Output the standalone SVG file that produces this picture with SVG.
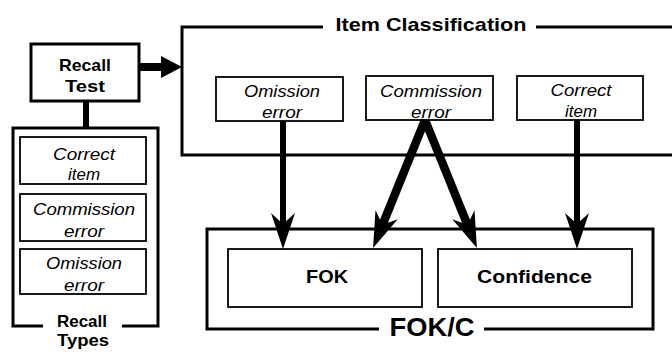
<svg xmlns="http://www.w3.org/2000/svg" width="672" height="353" viewBox="0 0 672 353">
  <style>
    .frame { fill: none; stroke: #000; stroke-width: 3; }
    .box { fill: #fff; stroke: #000; stroke-width: 1.8; }
    .bold { font-family: "Liberation Sans", Arial, Helvetica, sans-serif; font-weight: bold; fill: #000; text-anchor: middle; }
    .ital { font-family: "Liberation Sans", Arial, Helvetica, sans-serif; font-style: italic; font-size: 17px; fill: #000; text-anchor: middle; }
    .shaft { stroke: #000; fill: none; stroke-linecap: butt; }
  </style>
  <defs>
    <marker id="barb" markerUnits="userSpaceOnUse" markerWidth="60" markerHeight="40" refX="0" refY="0" viewBox="-20 -20 60 40" orient="auto" overflow="visible">
      <path d="M24,0 L-12,-12 L-1,0 L-12,12 Z" fill="#000"/>
    </marker>
  </defs>

  <rect width="672" height="353" fill="#fff"/>

  <!-- Recall Test -->
  <g id="recall-test">
    <rect class="frame" x="31" y="44" width="108" height="57"/>
    <text class="bold" x="85" y="71" font-size="17" textLength="52" lengthAdjust="spacingAndGlyphs">Recall</text>
    <text class="bold" x="85" y="92" font-size="17" textLength="40" lengthAdjust="spacingAndGlyphs">Test</text>
  </g>

  <!-- Recall Types frame and its entries -->
  <g id="recall-types">
    <path class="frame" d="M43,326 L13,326 L13,128 L158,128 L158,326 L122,326"/>
    <text class="bold" x="82" y="327" font-size="16.5" textLength="50" lengthAdjust="spacingAndGlyphs">Recall</text>
    <text class="bold" x="83" y="346" font-size="16.5" textLength="52" lengthAdjust="spacingAndGlyphs">Types</text>
  </g>
  <g id="rt-correct">
    <rect class="box" x="20" y="137" width="126" height="47"/>
    <text class="ital" x="84" y="160" textLength="62" lengthAdjust="spacingAndGlyphs">Correct</text>
    <text class="ital" x="84" y="180" textLength="32" lengthAdjust="spacingAndGlyphs">item</text>
  </g>
  <g id="rt-commission">
    <rect class="box" x="20" y="194" width="126" height="47"/>
    <text class="ital" x="84" y="215" textLength="102" lengthAdjust="spacingAndGlyphs">Commission</text>
    <text class="ital" x="84" y="237" textLength="40" lengthAdjust="spacingAndGlyphs">error</text>
  </g>
  <g id="rt-omission">
    <rect class="box" x="20" y="249" width="126" height="45"/>
    <text class="ital" x="84" y="269" textLength="76" lengthAdjust="spacingAndGlyphs">Omission</text>
    <text class="ital" x="84" y="291" textLength="40" lengthAdjust="spacingAndGlyphs">error</text>
  </g>

  <!-- Item Classification frame and its entries -->
  <g id="item-classification">
    <path class="frame" d="M323,27 L182,27 L182,155 L675,155 M536,27 L675,27"/>
    <text class="bold" x="431" y="31" font-size="19" textLength="191" lengthAdjust="spacingAndGlyphs">Item Classification</text>
  </g>
  <g id="ic-omission">
    <rect class="box" x="216" y="77" width="127" height="44"/>
    <text class="ital" x="282" y="97" textLength="76" lengthAdjust="spacingAndGlyphs">Omission</text>
    <text class="ital" x="282" y="118" textLength="40" lengthAdjust="spacingAndGlyphs">error</text>
  </g>
  <g id="ic-commission">
    <rect class="box" x="366" y="76" width="127" height="44"/>
    <text class="ital" x="431" y="97" textLength="102" lengthAdjust="spacingAndGlyphs">Commission</text>
    <text class="ital" x="431" y="118" textLength="40" lengthAdjust="spacingAndGlyphs">error</text>
  </g>
  <g id="ic-correct">
    <rect class="box" x="517" y="76" width="126" height="44"/>
    <text class="ital" x="581" y="96" textLength="61" lengthAdjust="spacingAndGlyphs">Correct</text>
    <text class="ital" x="581" y="117" textLength="32" lengthAdjust="spacingAndGlyphs">item</text>
  </g>

  <!-- FOK/C frame and its entries -->
  <g id="fokc">
    <path class="frame" d="M379,329 L207,329 L207,229 L653,229 L653,329 L484,329"/>
    <text class="bold" x="432" y="336" font-size="25" textLength="85" lengthAdjust="spacingAndGlyphs">FOK/C</text>
  </g>
  <g id="fok">
    <rect class="box" x="228" y="249" width="194" height="58"/>
    <text class="bold" x="327" y="283" font-size="19" textLength="42" lengthAdjust="spacingAndGlyphs">FOK</text>
  </g>
  <g id="confidence">
    <rect class="box" x="438" y="249" width="194" height="58"/>
    <text class="bold" x="534.5" y="283" font-size="19" textLength="115" lengthAdjust="spacingAndGlyphs">Confidence</text>
  </g>

  <!-- Connectors -->
  <g id="connectors">
    <line class="shaft" x1="86" y1="101" x2="86" y2="128" stroke-width="6"/>
    <line class="shaft" x1="139" y1="67" x2="164" y2="67" stroke-width="8"/>
    <path d="M161,56 L182,67 L161,78 Z" fill="#000"/>
    <line class="shaft" x1="283" y1="121" x2="283" y2="225" stroke-width="6" marker-end="url(#barb)"/>
    <line class="shaft" x1="577" y1="120" x2="577" y2="225" stroke-width="6" marker-end="url(#barb)"/>
    <line class="shaft" x1="425" y1="120" x2="382.1" y2="225.8" stroke-width="8.5" marker-end="url(#barb)"/>
    <line class="shaft" x1="425" y1="120" x2="467.9" y2="225.8" stroke-width="8.5" marker-end="url(#barb)"/>
  </g>
</svg>
